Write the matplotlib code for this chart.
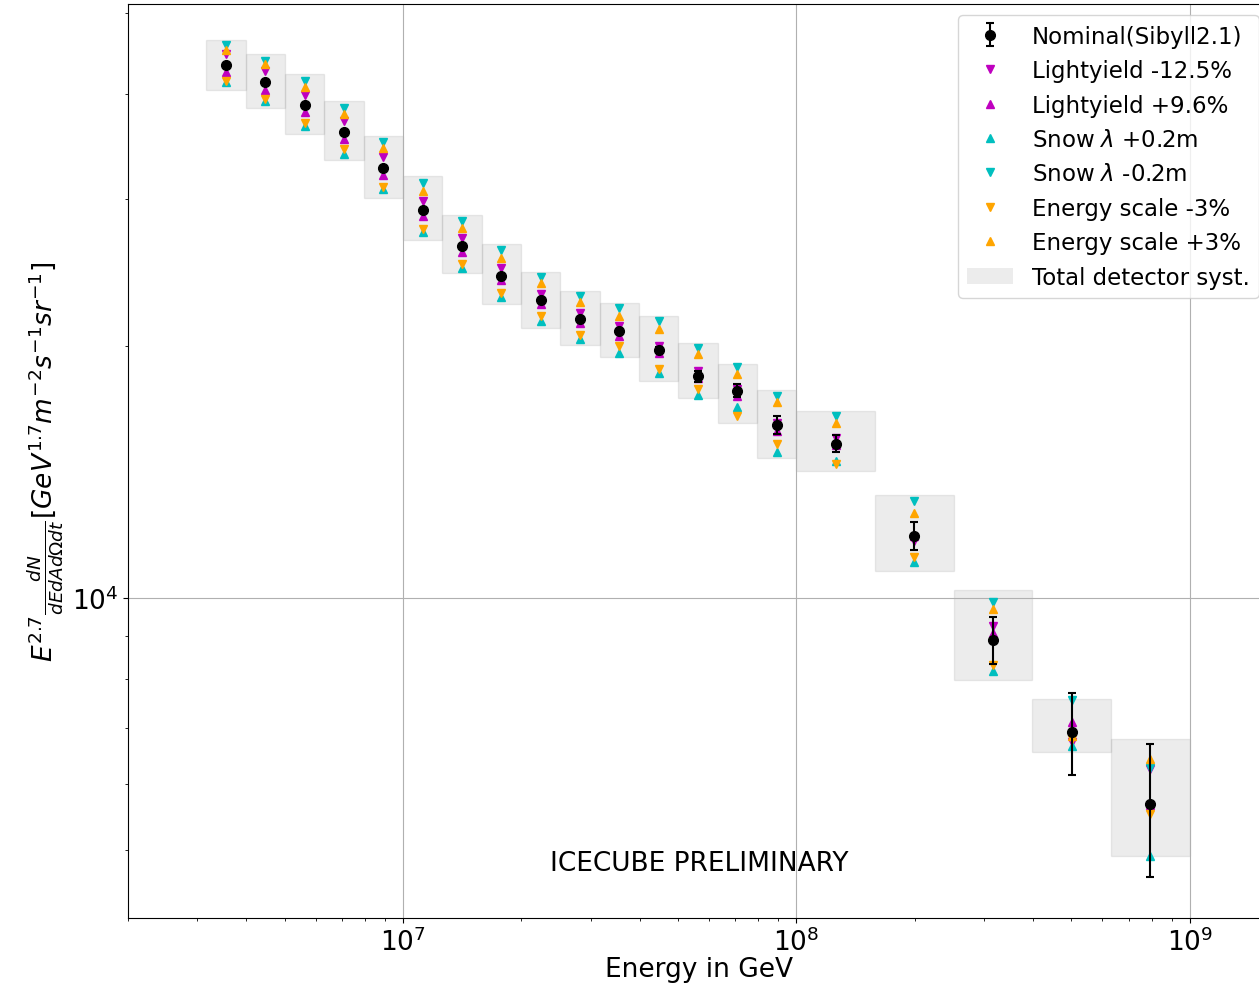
import numpy as np
import matplotlib
matplotlib.use("Agg")
import matplotlib.pyplot as plt
from matplotlib.ticker import NullFormatter
from matplotlib.patches import Patch

# log10(E/GeV) bin edges
log_edges = [6.5, 6.6, 6.7, 6.8, 6.9, 7.0, 7.1, 7.2, 7.3, 7.4, 7.5, 7.6, 7.7, 7.8,
             7.9, 8.0, 8.2, 8.4, 8.6, 8.8, 9.0]

# E^2.7 flux, nominal (Sibyll2.1)
nominal = [43300, 41350, 38800, 36050, 32650, 29100, 26350, 24250, 22700, 21550,
           20850, 19800, 18400, 17700, 16100, 15300, 11860, 8910, 6920, 5670]
nominal_err = [60, 60, 60, 60, 60, 60, 60, 60, 70, 80,
               110, 140, 280, 330, 400, 360, 460, 570, 780, 1030]

# total detector systematic band
syst_low = [40450, 38500, 35900, 33350, 30050, 26800, 24450, 22450, 21000, 20050,
            19400, 18150, 17350, 16200, 14700, 14200, 10770, 7980, 6550, 4920]
syst_high = [46400, 44670, 42300, 39250, 35650, 31900, 28700, 26500, 24500, 23300,
             22500, 21750, 20200, 19050, 17750, 16750, 13280, 10220, 7570, 6790]

# detector variations
ly_minus = [44700, 42600, 39900, 37150, 33650, 29800, 26900, 24800, 23100, 21900,
            21150, 20000, 18700, 17800, 16200, 15550, 11700, 9260, 6730, 6250]
ly_plus = [42500, 40450, 38100, 35350, 32000, 28600, 25900, 24000, 22450, 21300,
           20550, 19650, 18300, 17450, 15850, 15250, 11870, 9080, 7110, 5660]
snow_plus = [41400, 39250, 36700, 33900, 30800, 27350, 24800, 22900, 21450, 20400,
             19650, 18600, 17500, 16900, 14950, 14600, 11040, 8180, 6660, 4920]
snow_minus = [45800, 43800, 41500, 38500, 35050, 31300, 28200, 26050, 24200, 22950,
              22200, 21450, 19900, 18900, 17450, 16500, 13060, 9890, 7550, 6270]
escale_minus = [41500, 39500, 36950, 34400, 30950, 27600, 25050, 23150, 21750, 20600,
                20000, 18800, 17800, 16500, 15300, 14450, 11190, 8320, 6790, 5520]
escale_plus = [45150, 43450, 40800, 37850, 34500, 30650, 27650, 25500, 23800, 22600,
               21750, 20950, 19550, 18500, 17150, 16200, 12630, 9700, 6840, 6420]

plt.rcParams['font.size'] = 19

log_edges = np.array(log_edges)
edges = 10 ** log_edges
centers = 10 ** ((log_edges[:-1] + log_edges[1:]) / 2)

fig = plt.figure(figsize=(12.59, 9.87), dpi=100)
ax = fig.add_axes([128 / 1259, 68 / 987, 1142 / 1259, 914 / 987])
ax.set_xscale('log')
ax.set_yscale('log')

# systematic boxes
low = np.array(syst_low)
high = np.array(syst_high)
ax.bar(edges[:-1], high - low, bottom=low, width=edges[1:] - edges[:-1], align='edge',
       color='grey', alpha=0.15, edgecolor='grey', linewidth=1, zorder=1)

variations = [
    (ly_minus, 'm', 'v', 'Lightyield -12.5%'),
    (ly_plus, 'm', '^', 'Lightyield +9.6%'),
    (snow_plus, 'c', '^', r'Snow $\lambda$ +0.2m'),
    (snow_minus, 'c', 'v', r'Snow $\lambda$ -0.2m'),
    (escale_minus, 'orange', 'v', 'Energy scale -3%'),
    (escale_plus, 'orange', '^', 'Energy scale +3%'),
]

handles = []
eb = ax.errorbar(centers, nominal, yerr=nominal_err, fmt='o', color='black', markersize=7,
                 elinewidth=1.5, capsize=3, capthick=1.5, zorder=10, label='Nominal(Sibyll2.1)')
handles.append(eb)
for vals, col, mk, lab in variations:
    ln, = ax.plot(centers, vals, ls='', marker=mk, color=col, markersize=6, zorder=5, label=lab)
    handles.append(ln)
handles.append(Patch(facecolor='grey', alpha=0.15, label='Total detector syst.'))

ax.set_xlim(2e6, 1.6e9)
ax.set_ylim(4147, 51270)
ax.yaxis.set_minor_formatter(NullFormatter())
ax.grid(True)

ax.text(0.5, 0.06, 'ICECUBE PRELIMINARY', transform=ax.transAxes, ha='center', va='center')
ax.set_xlabel('Energy in GeV', labelpad=0)
ax.set_ylabel(r'$E^{2.7}\frac{dN}{dEdAd\Omega dt}[GeV^{1.7}m^{-2}s^{-1}sr^{-1}]$', fontsize=19)
ax.legend(handles=handles, loc='upper right', fontsize=16.5)

plt.savefig('out.png', dpi=100)
plt.close()
